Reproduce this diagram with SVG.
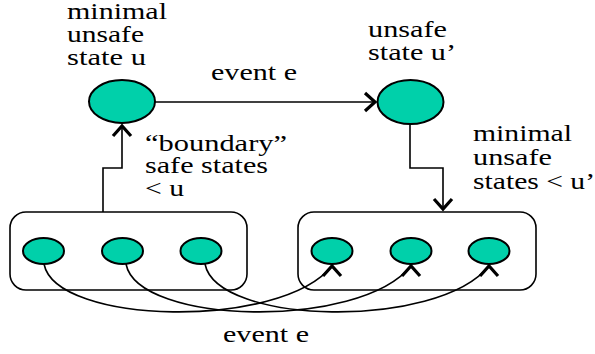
<svg xmlns="http://www.w3.org/2000/svg" width="595" height="354" viewBox="0 0 595 354">
<style>
.st{fill:#00D0AA;stroke:#000;stroke-width:2}
.box{fill:none;stroke:#000;stroke-width:1.6}
.ln{fill:none;stroke:#000;stroke-width:1.6}
</style>
<defs>
<marker id="ah" markerUnits="userSpaceOnUse" orient="auto" overflow="visible" markerWidth="20" markerHeight="20" refX="0" refY="0">
<path d="M -10 -9 L 0 0 L -10 9" fill="none" stroke="#000" stroke-width="3.2"/>
</marker>
<marker id="up" markerUnits="userSpaceOnUse" orient="-90" overflow="visible" markerWidth="20" markerHeight="20" refX="0" refY="0">
<path d="M -10 -9 L 0 0 L -10 9" fill="none" stroke="#000" stroke-width="3.2"/>
</marker>
</defs>
<rect width="595" height="354" fill="#fff"/>
<g id="connectors">
<path class="ln" d="M 155 102 L 375 102" marker-end="url(#ah)"/>
<path class="ln" d="M 103 212 L 103 168 L 122 168 L 122 126" marker-end="url(#ah)"/>
<path class="ln" d="M 410 124 L 410 168 L 443 168 L 443 209" marker-end="url(#ah)"/>
<path class="ln" d="M 44 264 C 56 325 280 330 332 266" marker-end="url(#up)"/>
<path class="ln" d="M 126 264 C 138 325 359 330 411 266" marker-end="url(#up)"/>
<path class="ln" d="M 205 264 C 217 325 437 330 489 266" marker-end="url(#up)"/>
</g>
<g id="node-u"><ellipse class="st" cx="122" cy="101.5" rx="33" ry="21.5"/></g>
<g id="node-u2"><ellipse class="st" cx="410.5" cy="102" rx="33" ry="22"/></g>
<g id="box-left">
<rect class="box" x="10" y="212" width="237" height="78" rx="16"/>
<ellipse class="st" cx="43.5" cy="251" rx="20.5" ry="13"/>
<ellipse class="st" cx="122.5" cy="251" rx="20.5" ry="13"/>
<ellipse class="st" cx="201" cy="251" rx="20.5" ry="13"/>
</g>
<g id="box-right">
<rect class="box" x="298" y="212" width="238" height="78" rx="16"/>
<ellipse class="st" cx="332" cy="251" rx="20.5" ry="13"/>
<ellipse class="st" cx="411" cy="251" rx="20.5" ry="13"/>
<ellipse class="st" cx="489" cy="251" rx="20.5" ry="13"/>
</g>
<g id="labels" font-family="Liberation Serif" font-size="22.5" fill="#000">
<text x="67" y="18.5" textLength="100" lengthAdjust="spacingAndGlyphs">minimal</text>
<text x="67" y="41.5" textLength="77" lengthAdjust="spacingAndGlyphs">unsafe</text>
<text x="67" y="65" textLength="79" lengthAdjust="spacingAndGlyphs">state u</text>
<text x="211" y="80" textLength="86" lengthAdjust="spacingAndGlyphs">event e</text>
<text x="368" y="37" textLength="79" lengthAdjust="spacingAndGlyphs">unsafe</text>
<text x="368" y="60" textLength="88" lengthAdjust="spacingAndGlyphs">state u’</text>
<text x="473" y="141" textLength="99" lengthAdjust="spacingAndGlyphs">minimal</text>
<text x="473" y="165" textLength="79" lengthAdjust="spacingAndGlyphs">unsafe</text>
<text x="473" y="189" textLength="122" lengthAdjust="spacingAndGlyphs">states &lt; u’</text>
<text x="145" y="150.5" textLength="142" lengthAdjust="spacingAndGlyphs">“boundary”</text>
<text x="145" y="173" textLength="123" lengthAdjust="spacingAndGlyphs">safe states</text>
<text x="145" y="195.5" textLength="39" lengthAdjust="spacingAndGlyphs">&lt; u</text>
<text x="223" y="342" textLength="86" lengthAdjust="spacingAndGlyphs">event e</text>
</g>
</svg>
